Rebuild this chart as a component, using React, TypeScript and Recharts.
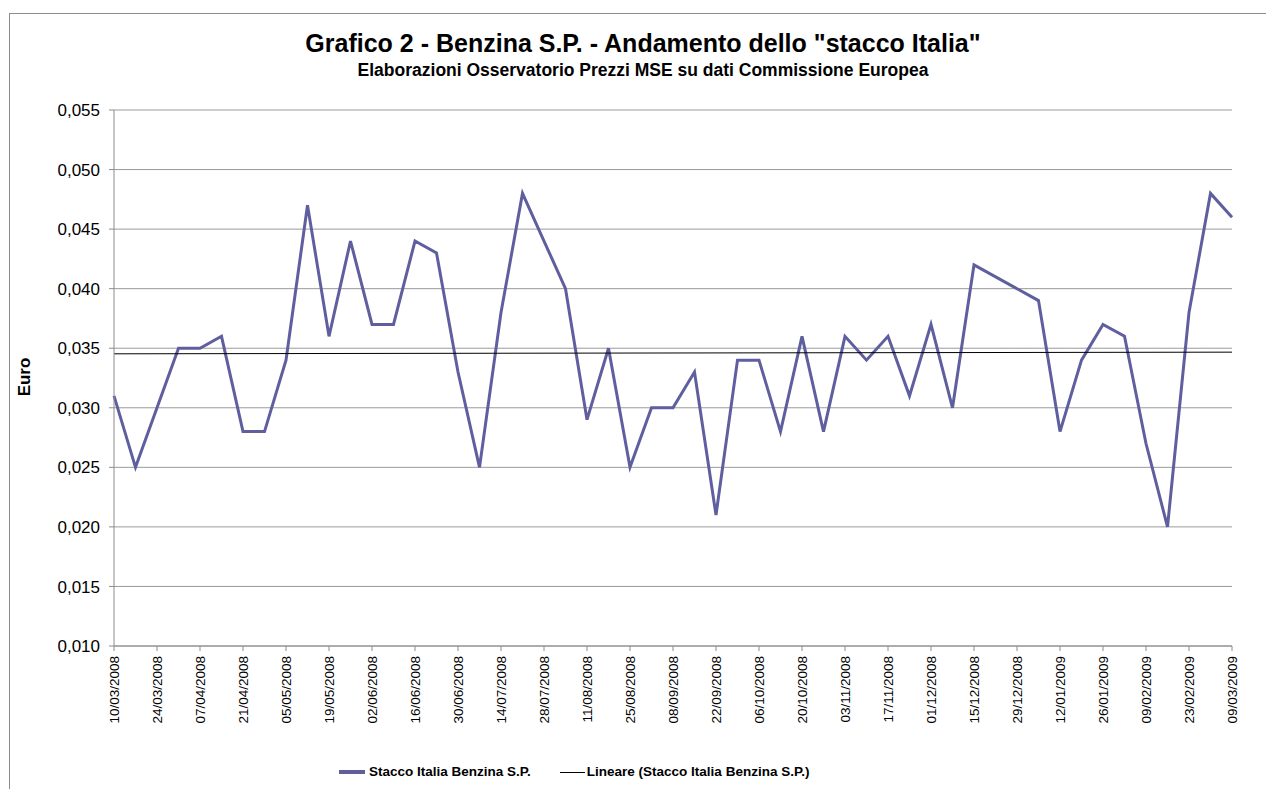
import { CartesianGrid, Line, LineChart, XAxis, YAxis } from "recharts";

const dates = [
  "10/03/2008", "17/03/2008", "24/03/2008", "31/03/2008", "07/04/2008", "14/04/2008", "21/04/2008",
  "28/04/2008", "05/05/2008", "12/05/2008", "19/05/2008", "26/05/2008", "02/06/2008", "09/06/2008",
  "16/06/2008", "23/06/2008", "30/06/2008", "07/07/2008", "14/07/2008", "21/07/2008", "28/07/2008",
  "04/08/2008", "11/08/2008", "18/08/2008", "25/08/2008", "01/09/2008", "08/09/2008", "15/09/2008",
  "22/09/2008", "29/09/2008", "06/10/2008", "13/10/2008", "20/10/2008", "27/10/2008", "03/11/2008",
  "10/11/2008", "17/11/2008", "24/11/2008", "01/12/2008", "08/12/2008", "15/12/2008", "22/12/2008",
  "29/12/2008", "05/01/2009", "12/01/2009", "19/01/2009", "26/01/2009", "02/02/2009", "09/02/2009",
  "16/02/2009", "23/02/2009", "02/03/2009", "09/03/2009",
];

// stacco Italia benzina (euro/litro); null = settimana senza rilevazione
const stacco: (number | null)[] = [
  0.031, 0.025, 0.030, 0.035, 0.035, 0.036, 0.028, 0.028, 0.034, 0.047,
  0.036, 0.044, 0.037, 0.037, 0.044, 0.043, 0.033, 0.025, 0.038, 0.048,
  0.044, 0.040, 0.029, 0.035, 0.025, 0.030, 0.030, 0.033, 0.021, 0.034,
  0.034, 0.028, 0.036, 0.028, 0.036, 0.034, 0.036, 0.031, 0.037, 0.030,
  0.042, null, null, 0.039, 0.028, 0.034, 0.037, 0.036, 0.027, 0.020,
  0.038, 0.048, 0.046,
];

// linea di tendenza lineare: valori letti agli estremi dell'asse
const trendStart = 0.03453;
const trendEnd = 0.03467;

const yTicks = [0.010, 0.015, 0.020, 0.025, 0.030, 0.035, 0.040, 0.045, 0.050, 0.055];

const TITLE = 'Grafico 2 - Benzina S.P. - Andamento dello "stacco Italia"';
const SUBTITLE = "Elaborazioni Osservatorio Prezzi MSE su dati Commissione Europea";
const SERIES_NAME = "Stacco Italia Benzina S.P.";
const TREND_NAME = "Lineare (Stacco Italia Benzina S.P.)";

const FONT = '"Liberation Sans", Arial, sans-serif';
const LINE_COLOR = "#5f5f9f";

const data = dates.map((date, i) => ({
  date,
  stacco: stacco[i],
  trend: i === 0 ? trendStart : i === dates.length - 1 ? trendEnd : null,
}));

const fmt = (v: number) => v.toFixed(3).replace(".", ",");

function XTick({ x, y, payload }: any) {
  return (
    <text
      x={x}
      y={y + 3}
      transform={`rotate(-90, ${x}, ${y + 3})`}
      textAnchor="end"
      dy="0.35em"
      fontSize={13.5}
      fontFamily={FONT}
      fill="#000"
    >
      {payload.value}
    </text>
  );
}

function YTick({ x, y, payload }: any) {
  return (
    <text x={x - 7} y={y} textAnchor="end" dy="0.36em" fontSize={17} fontFamily={FONT} fill="#000">
      {fmt(payload.value)}
    </text>
  );
}

export default function App() {
  return (
    <div style={{ position: "fixed", left: 0, top: 0, width: 1266, height: 789, overflow: "hidden", background: "#fff" }}>
      <div
        style={{
          position: "absolute",
          left: 9,
          top: 13,
          width: 1300,
          height: 820,
          border: "1px solid #8c8c8c",
          boxSizing: "border-box",
        }}
      />
      <div
        style={{
          position: "absolute",
          left: 10,
          width: 1266,
          top: 28,
          textAlign: "center",
          fontFamily: FONT,
          fontWeight: "bold",
          whiteSpace: "nowrap",
        }}
      >
        <div style={{ fontSize: 25, lineHeight: "30px" }}>{TITLE}</div>
        <div style={{ fontSize: 17.5, lineHeight: "20px", marginTop: 2 }}>{SUBTITLE}</div>
      </div>
      <div
        style={{
          position: "absolute",
          left: 25,
          top: 377,
          transform: "translate(-50%, -50%) rotate(-90deg)",
          fontFamily: FONT,
          fontWeight: "bold",
          fontSize: 17,
        }}
      >
        Euro
      </div>

      <div style={{ position: "absolute", left: 0, top: 0 }}>
        <LineChart width={1266} height={789} data={data} margin={{ top: 110, right: 34, left: 0, bottom: 0 }}>
          <CartesianGrid vertical={false} stroke="#9a9a9a" strokeWidth={1} />
          <XAxis
            dataKey="date"
            interval={1}
            height={143}
            tick={<XTick />}
            tickSize={5}
            axisLine={{ stroke: "#8c8c8c" }}
            tickLine={{ stroke: "#8c8c8c" }}
          />
          <YAxis
            domain={[0.01, 0.055]}
            ticks={yTicks}
            width={114}
            tick={<YTick />}
            tickSize={5}
            axisLine={{ stroke: "#8c8c8c" }}
            tickLine={{ stroke: "#8c8c8c" }}
          />
          <Line
            type="linear"
            dataKey="stacco"
            name={SERIES_NAME}
            stroke={LINE_COLOR}
            strokeWidth={3}
            dot={false}
            connectNulls
            isAnimationActive={false}
          />
          <Line
            type="linear"
            dataKey="trend"
            name={TREND_NAME}
            stroke="#000"
            strokeWidth={1}
            dot={false}
            connectNulls
            isAnimationActive={false}
          />
        </LineChart>
      </div>

      <div
        style={{
          position: "absolute",
          left: 339,
          top: 763,
          display: "flex",
          alignItems: "center",
          fontFamily: FONT,
          fontWeight: "bold",
          fontSize: 13.5,
          lineHeight: "18px",
          whiteSpace: "nowrap",
        }}
      >
        <span style={{ display: "inline-block", width: 26, height: 4, background: LINE_COLOR, marginRight: 4 }} />
        <span>{SERIES_NAME}</span>
        <span style={{ display: "inline-block", width: 25, height: 1, background: "#000", marginLeft: 29, marginRight: 2 }} />
        <span>{TREND_NAME}</span>
      </div>
    </div>
  );
}
